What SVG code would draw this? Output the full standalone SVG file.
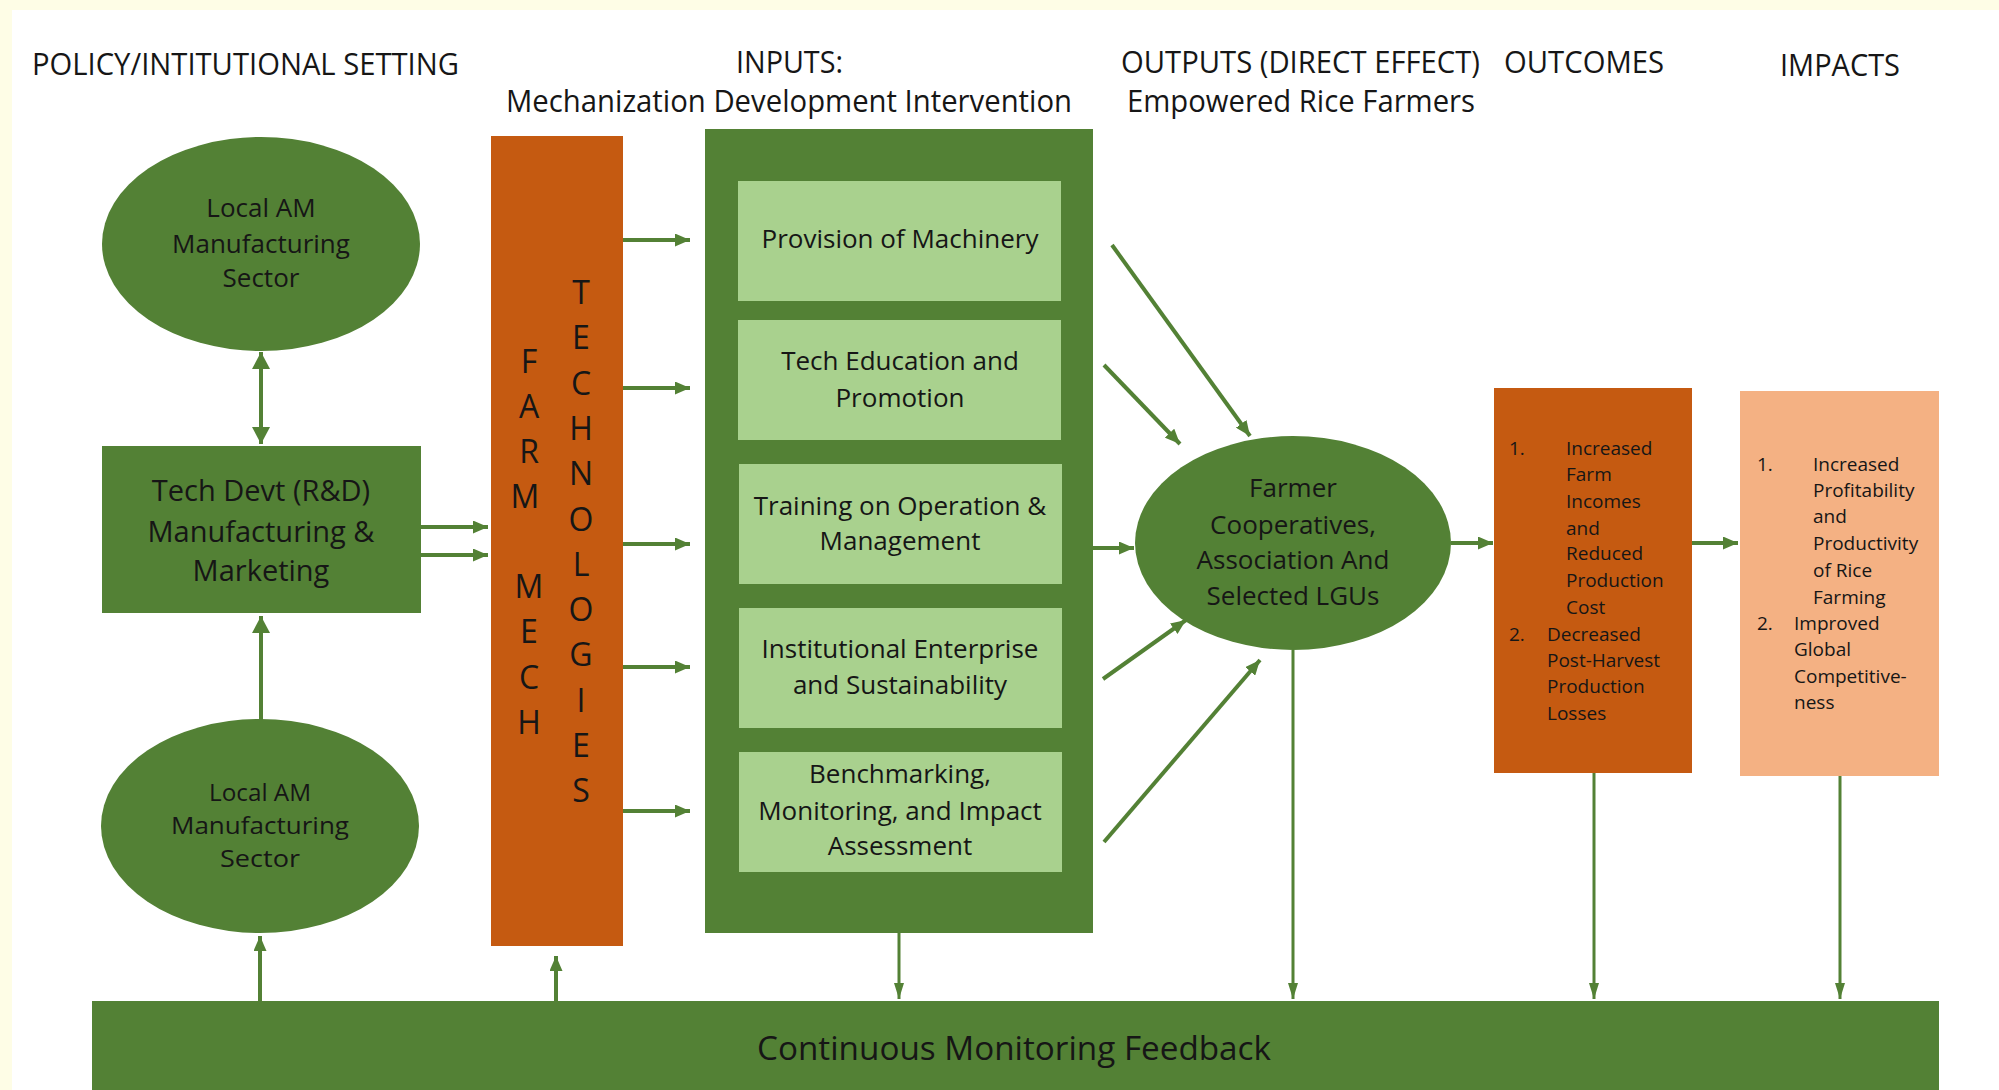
<svg xmlns="http://www.w3.org/2000/svg" width="1999" height="1090" viewBox="0 0 1999 1090">
<defs>
<style>
.t{font-family:"Open Sans","Liberation Sans",sans-serif;fill:#161616}
.m{text-anchor:middle}
.h{font-size:31px}
.b{font-size:26px}
.s{font-size:19px}
.L{font-size:32px;text-anchor:middle}
.dg{fill:#538135}
.lg{fill:#A9D18E}
.or{fill:#C55A11}
.pe{fill:#F4B183}
.c{stroke:#538135;stroke-width:4;fill:none}
.th{stroke-width:3}
</style>
<marker id="ah" markerUnits="userSpaceOnUse" markerWidth="15" markerHeight="13" refX="15" refY="6.5" orient="auto"><path d="M0,0 L15,6.5 L0,13 z" fill="#538135"/></marker>
<marker id="an" markerUnits="userSpaceOnUse" markerWidth="16" markerHeight="10" refX="16" refY="5" orient="auto"><path d="M0,0 L16,5 L0,10 z" fill="#538135"/></marker>
<marker id="ab" markerUnits="userSpaceOnUse" markerWidth="17" markerHeight="18" refX="17" refY="9" orient="auto-start-reverse"><path d="M0,0 L17,9 L0,18 z" fill="#538135"/></marker>
</defs>
<rect width="1999" height="1090" fill="#ffffff"/>
<rect width="1999" height="10" fill="#FEFDE6"/>
<rect width="12" height="1090" fill="#FEFDE6"/>

<g id="headers" class="t h">
<text x="32" y="75" textLength="427" lengthAdjust="spacingAndGlyphs">POLICY/INTITUTIONAL SETTING</text>
<text x="736" y="73" textLength="107" lengthAdjust="spacingAndGlyphs">INPUTS:</text>
<text x="506" y="112" textLength="566" lengthAdjust="spacingAndGlyphs">Mechanization Development Intervention</text>
<text x="1121" y="73" textLength="359" lengthAdjust="spacingAndGlyphs">OUTPUTS (DIRECT EFFECT)</text>
<text x="1504" y="73" textLength="160" lengthAdjust="spacingAndGlyphs">OUTCOMES</text>
<text x="1127" y="112" textLength="348" lengthAdjust="spacingAndGlyphs">Empowered Rice Farmers</text>
<text x="1780" y="76" textLength="120" lengthAdjust="spacingAndGlyphs">IMPACTS</text>
</g>

<g id="connectors">
<line class="c" x1="261" y1="352" x2="261" y2="444" stroke-width="5" marker-start="url(#ab)" marker-end="url(#ab)"/>
<line class="c" x1="261" y1="720" x2="261" y2="616" stroke-width="5" marker-end="url(#ab)"/>
<line class="c" x1="421" y1="527" x2="488" y2="527" marker-end="url(#ah)"/>
<line class="c" x1="421" y1="555" x2="488" y2="555" marker-end="url(#ah)"/>
<line class="c" x1="260" y1="1001" x2="260" y2="936" marker-end="url(#ah)"/>
<line class="c" x1="556" y1="1001" x2="556" y2="956" marker-end="url(#ah)"/>
<line class="c" x1="623" y1="240" x2="690" y2="240" marker-end="url(#ah)"/>
<line class="c" x1="623" y1="388" x2="690" y2="388" marker-end="url(#ah)"/>
<line class="c" x1="623" y1="544" x2="690" y2="544" marker-end="url(#ah)"/>
<line class="c" x1="623" y1="667" x2="690" y2="667" marker-end="url(#ah)"/>
<line class="c" x1="623" y1="811" x2="690" y2="811" marker-end="url(#ah)"/>
<line class="c th" x1="899" y1="933" x2="899" y2="999" marker-end="url(#an)"/>
<line class="c" x1="1112" y1="245" x2="1250" y2="436" marker-end="url(#ah)"/>
<line class="c" x1="1104" y1="365" x2="1180" y2="444" marker-end="url(#ah)"/>
<line class="c" x1="1093" y1="548" x2="1134" y2="548" marker-end="url(#ah)"/>
<line class="c" x1="1103" y1="679" x2="1186" y2="620" marker-end="url(#ah)"/>
<line class="c" x1="1104" y1="842" x2="1260" y2="660" marker-end="url(#ah)"/>
<line class="c th" x1="1293" y1="650" x2="1293" y2="999" marker-end="url(#an)"/>
<line class="c" x1="1451" y1="543" x2="1493" y2="543" marker-end="url(#ah)"/>
<line class="c" x1="1692" y1="543" x2="1738" y2="543" marker-end="url(#ah)"/>
<line class="c th" x1="1594" y1="773" x2="1594" y2="999" marker-end="url(#an)"/>
<line class="c th" x1="1840" y1="776" x2="1840" y2="999" marker-end="url(#an)"/>
</g>

<g id="local-am-top">
<ellipse class="dg" cx="261" cy="244" rx="159" ry="107"/>
<text class="t b m" x="261" y="217">Local AM</text>
<text class="t b m" x="261" y="253">Manufacturing</text>
<text class="t b m" x="261" y="287">Sector</text>
</g>

<g id="tech-devt">
<rect class="dg" x="102" y="446" width="319" height="167"/>
<text class="t m" font-size="29" x="261" y="501">Tech Devt (R&amp;D)</text>
<text class="t m" font-size="29" x="261" y="542">Manufacturing &amp;</text>
<text class="t m" font-size="29" x="261" y="581">Marketing</text>
</g>

<g id="local-am-bottom">
<ellipse class="dg" cx="260" cy="826" rx="159" ry="107"/>
<text class="t m" font-size="23.5" x="260" y="801" textLength="102" lengthAdjust="spacingAndGlyphs">Local AM</text>
<text class="t m" font-size="23.5" x="260" y="834" textLength="178" lengthAdjust="spacingAndGlyphs">Manufacturing</text>
<text class="t m" font-size="23.5" x="260" y="867" textLength="80" lengthAdjust="spacingAndGlyphs">Sector</text>
</g>

<g id="farm-mech">
<rect class="or" x="491" y="136" width="132" height="810"/>
<text class="t L">
<tspan x="529" y="373">F</tspan><tspan x="529" y="418">A</tspan><tspan x="529" y="463">R</tspan><tspan x="529" y="508">M</tspan>
<tspan x="529" y="598">M</tspan><tspan x="529" y="643">E</tspan><tspan x="529" y="689">C</tspan><tspan x="529" y="734">H</tspan>
</text>
<text class="t L">
<tspan x="581" y="304">T</tspan><tspan x="581" y="349">E</tspan><tspan x="581" y="395">C</tspan><tspan x="581" y="440">H</tspan><tspan x="581" y="485">N</tspan><tspan x="581" y="531">O</tspan><tspan x="581" y="576">L</tspan><tspan x="581" y="621">O</tspan><tspan x="581" y="666">G</tspan><tspan x="581" y="712">I</tspan><tspan x="581" y="757">E</tspan><tspan x="581" y="802">S</tspan>
</text>
</g>

<g id="inputs">
<rect class="dg" x="705" y="129" width="388" height="804"/>
<g id="provision">
<rect class="lg" x="738" y="181" width="323" height="120"/>
<text class="t b m" x="900" y="248">Provision of Machinery</text>
</g>
<g id="tech-education">
<rect class="lg" x="738" y="320" width="323" height="120"/>
<text class="t b m" x="900" y="370">Tech Education and</text>
<text class="t b m" x="900" y="407">Promotion</text>
</g>
<g id="training">
<rect class="lg" x="739" y="464" width="323" height="120"/>
<text class="t b m" x="900" y="515">Training on Operation &amp;</text>
<text class="t b m" x="900" y="550">Management</text>
</g>
<g id="institutional">
<rect class="lg" x="739" y="608" width="323" height="120"/>
<text class="t b m" x="900" y="658">Institutional Enterprise</text>
<text class="t b m" x="900" y="694">and Sustainability</text>
</g>
<g id="benchmarking">
<rect class="lg" x="739" y="752" width="323" height="120"/>
<text class="t b m" x="900" y="783">Benchmarking,</text>
<text class="t b m" x="900" y="820">Monitoring, and Impact</text>
<text class="t b m" x="900" y="855">Assessment</text>
</g>
</g>

<g id="farmer-coops">
<ellipse class="dg" cx="1293" cy="543" rx="158" ry="107"/>
<text class="t b m" x="1293" y="497">Farmer</text>
<text class="t b m" x="1293" y="534">Cooperatives,</text>
<text class="t b m" x="1293" y="569">Association And</text>
<text class="t b m" x="1293" y="605">Selected LGUs</text>
</g>

<g id="outcomes">
<rect class="or" x="1494" y="388" width="198" height="385"/>
<g class="t s">
<text x="1509" y="455">1.</text>
<text x="1566" y="455">Increased</text>
<text x="1566" y="481">Farm</text>
<text x="1566" y="508">Incomes</text>
<text x="1566" y="535">and</text>
<text x="1566" y="560">Reduced</text>
<text x="1566" y="587">Production</text>
<text x="1566" y="614">Cost</text>
<text x="1509" y="641">2.</text>
<text x="1547" y="641">Decreased</text>
<text x="1547" y="667">Post-Harvest</text>
<text x="1547" y="693">Production</text>
<text x="1547" y="720">Losses</text>
</g>
</g>

<g id="impacts">
<rect class="pe" x="1740" y="391" width="199" height="385"/>
<g class="t s">
<text x="1757" y="471">1.</text>
<text x="1813" y="471">Increased</text>
<text x="1813" y="497">Profitability</text>
<text x="1813" y="523">and</text>
<text x="1813" y="550">Productivity</text>
<text x="1813" y="577">of Rice</text>
<text x="1813" y="604">Farming</text>
<text x="1757" y="630">2.</text>
<text x="1794" y="630">Improved</text>
<text x="1794" y="656">Global</text>
<text x="1794" y="683">Competitive-</text>
<text x="1794" y="709">ness</text>
</g>
</g>

<g id="monitoring">
<rect class="dg" x="92" y="1001" width="1847" height="89"/>
<text class="t" font-size="33" x="757" y="1060" textLength="514" lengthAdjust="spacingAndGlyphs">Continuous Monitoring Feedback</text>
</g>
</svg>
